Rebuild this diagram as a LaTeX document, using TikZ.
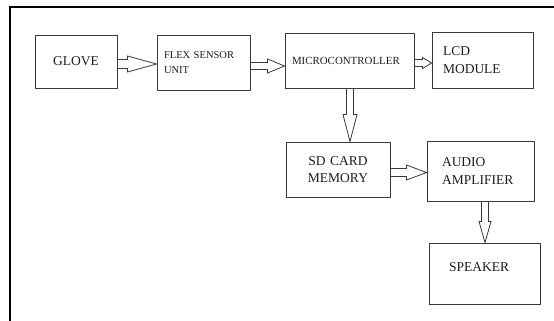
\documentclass[tikz,border=0pt]{standalone}
\usepackage{fontspec}
\setmainfont{Liberation Serif}
\usepackage{tikz}
\usetikzlibrary{calc}
\definecolor{BoxLine}{HTML}{3A3A3A}
\definecolor{TextInk}{HTML}{1C1C24}
% hollow block arrow: from, to, shaft half width, head length, head half width
\newcommand{\hollowright}[5]{%
  \draw[blockarrow] let \p1=(#1), \p2=(#2) in
    (\x1,\y1+#3) -- (\x2-#4,\y1+#3) -- (\x2-#4,\y1+#5) -- (\x2,\y1)
    -- (\x2-#4,\y1-#5) -- (\x2-#4,\y1-#3) -- (\x1,\y1-#3);}
\newcommand{\hollowdown}[5]{%
  \draw[blockarrow] let \p1=(#1), \p2=(#2) in
    (\x1-#3,\y1) -- (\x1-#3,\y2+#4) -- (\x1-#5,\y2+#4) -- (\x1,\y2)
    -- (\x1+#5,\y2+#4) -- (\x1+#3,\y2+#4) -- (\x1+#3,\y1);}

\begin{document}
\begin{tikzpicture}[x=1pt,y=-1pt]
  \tikzstyle{blockbox}=[draw=BoxLine,line width=0.9pt,inner ysep=0pt,
    text=TextInk,font=\fontsize{13.5}{17.5}\selectfont]
  \tikzstyle{smalltext}=[font=\fontsize{10.5}{15}\selectfont]
  \tikzstyle{blockarrow}=[draw=BoxLine,line width=0.8pt,line join=miter]
  \useasboundingbox (0,0) rectangle (554,321);
  \draw[line width=2.5pt] (10,321) -- (10,7) -- (554,7);
  % top row
  \node[blockbox,minimum width=82pt,minimum height=53pt,inner xsep=0pt] (glove) at (76,61.5) {GLOVE};
  \node[blockbox,smalltext,minimum height=55pt,inner xsep=7pt,text width=79pt,align=left] (flex) at (203.5,62.5) {FLEX SENSOR\\UNIT};
  \node[blockbox,smalltext,font=\fontsize{10.9}{15}\selectfont,minimum height=55pt,inner xsep=7pt,text width=115pt,align=left] (mcu) at (349.5,60.5) {MICROCONTROLLER};
  \node[blockbox,minimum height=56pt,inner xsep=11pt,text width=79pt,align=left] (lcd) at (482.5,60) {LCD\\MODULE};
  % lower part
  \node[blockbox,minimum height=55pt,inner xsep=0pt,text width=104pt,align=center] (sd) at (338,169.5) {SD CARD\\MEMORY};
  \node[blockbox,minimum height=60pt,inner xsep=15pt,text width=77pt,align=left] (audio) at (480.5,171) {AUDIO\\AMPLIFIER};
  \node[blockbox,minimum height=61pt,inner xsep=20pt,text width=71pt,align=left,text depth=12pt] (speaker) at (484.5,273.5) {SPEAKER};
  % hollow arrows
  \hollowright{glove.east |- 0,64}{flex.west |- 0,64}{4.5pt}{29pt}{8pt}
  \hollowright{flex.east |- 0,66}{mcu.west |- 0,66}{3.5pt}{17pt}{7pt}
  \hollowright{mcu.east |- 0,63}{lcd.west |- 0,63}{3.5pt}{9pt}{5.5pt}
  \hollowdown{mcu.south -| 350,0}{sd.north -| 350,0}{3.5pt}{27pt}{7pt}
  \hollowright{sd.east |- 0,172.5}{audio.west |- 0,172.5}{4pt}{20pt}{7.5pt}
  \hollowdown{audio.south -| 485,0}{speaker.north -| 485,0}{3.5pt}{21pt}{6pt}
\end{tikzpicture}
\end{document}
